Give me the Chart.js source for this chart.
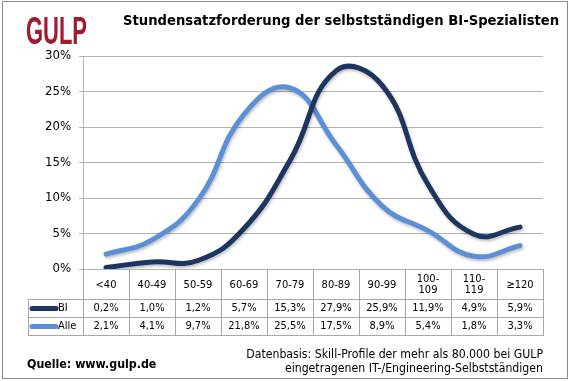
<!DOCTYPE html>
<html><head><meta charset="utf-8">
<script src="https://cdn.jsdelivr.net/npm/chart.js@4/dist/chart.umd.min.js"></script>
<style>html,body{margin:0;padding:0;background:#fff}canvas{display:block}</style>
</head><body>
<canvas id="c" width="570" height="381"></canvas>
<script>
// ---- data ----
const categories = ['<40', '40-49', '50-59', '60-69', '70-79', '80-89', '90-99', ['100-', '109'], ['110-', '119'], '≥120'];
const seriesNames = ['BI', 'Alle'];
const biValues = [0.2, 1.0, 1.2, 5.7, 15.3, 27.9, 25.9, 11.9, 4.9, 5.9];
const alleValues = [2.1, 4.1, 9.7, 21.8, 25.5, 17.5, 8.9, 5.4, 1.8, 3.3];
const yMax = 30;
const yStep = 5;
const titleText = 'Stundensatzforderung der selbstständigen BI-Spezialisten';
const sourceText = 'Quelle: www.gulp.de';
const noteLines = ['Datenbasis: Skill-Profile der mehr als 80.000 bei GULP', 'eingetragenen IT-/Engineering-Selbstständigen'];
const logoText = 'GULP';

const colBI = '#1d365f';
const colAlle = '#5b8fd8';
const gridCol = '#b3b3b3';
const tableFont = '11px "DejaVu Sans Condensed", "DejaVu Sans", sans-serif';
const fmt = v => v.toFixed(1).replace('.', ',') + '%';

function fitFont(ctx, text, weight, family, width) {
  let s = 8;
  for (; s < 40; s += 0.1) {
    ctx.font = weight + ' ' + s + 'px ' + family;
    if (ctx.measureText(text).width >= width) break;
  }
  return weight + ' ' + s.toFixed(1) + 'px ' + family;
}

const decor = {
  id: 'decor',
  beforeDraw(chart) {
    const ctx = chart.ctx;
    ctx.save();
    ctx.fillStyle = '#fff';
    ctx.fillRect(0, 0, chart.width, chart.height);
    ctx.restore();
  },
  beforeDatasetsDraw(chart) {
    const ctx = chart.ctx;
    ctx.save();
    ctx.shadowColor = 'rgba(0,0,0,0.25)';
    ctx.shadowBlur = 3;
    ctx.shadowOffsetX = 1;
    ctx.shadowOffsetY = 2;
  },
  afterDatasetsDraw(chart) {
    chart.ctx.restore();
  },
  afterDraw(chart) {
    const ctx = chart.ctx;
    const x = chart.scales.x;
    const ca = chart.chartArea;
    const n = categories.length;
    const bounds = [];
    for (let i = 0; i <= n; i++) {
      if (i === 0) bounds.push(ca.left);
      else if (i === n) bounds.push(ca.right);
      else bounds.push((x.getPixelForValue(i - 1) + x.getPixelForValue(i)) / 2);
    }
    const headTop = ca.bottom;
    const headBot = x.bottom;
    const rowH = 18;
    const legLeft = 28;
    const tableBot = headBot + rowH * seriesNames.length;
    const r = v => Math.round(v) + 0.5;
    ctx.save();
    ctx.strokeStyle = '#a8a8a8';
    ctx.lineWidth = 1;
    ctx.beginPath();
    // verticals
    bounds.forEach((b, i) => {
      ctx.moveTo(r(b), headTop);
      ctx.lineTo(r(b), tableBot);
    });
    ctx.moveTo(r(legLeft), headBot);
    ctx.lineTo(r(legLeft), tableBot);
    // horizontals
    for (let k = 0; k <= seriesNames.length; k++) {
      const yy = r(headBot + rowH * k);
      ctx.moveTo(legLeft, yy);
      ctx.lineTo(ca.right + 1, yy);
    }
    ctx.stroke();

    const series = [biValues, alleValues];
    const cols = [colBI, colAlle];
    ctx.font = tableFont;
    ctx.textBaseline = 'middle';
    series.forEach((vals, k) => {
      const yc = headBot + rowH * k + rowH / 2 + 0.5;
      ctx.fillStyle = '#000';
      ctx.textAlign = 'center';
      vals.forEach((v, i) => ctx.fillText(fmt(v), x.getPixelForValue(i), yc));
      // legend
      ctx.strokeStyle = cols[k];
      ctx.lineWidth = 5;
      ctx.lineCap = 'round';
      ctx.beginPath();
      ctx.moveTo(32, yc);
      ctx.lineTo(56, yc);
      ctx.stroke();
      ctx.fillStyle = '#000';
      ctx.textAlign = 'left';
      ctx.fillText(seriesNames[k], 58, yc);
    });

    // border
    ctx.strokeStyle = '#8c8c8c';
    ctx.lineWidth = 1;
    ctx.strokeRect(2.5, 1.5, 565, 377);

    // title
    ctx.fillStyle = '#000';
    ctx.textAlign = 'left';
    ctx.textBaseline = 'middle';
    ctx.font = fitFont(ctx, titleText, 'bold', '"DejaVu Sans", sans-serif', 436);
    ctx.fillText(titleText, 123, 22);

    // logo
    ctx.save();
    ctx.font = 'bold 39px "Liberation Sans Narrow", "Liberation Sans", sans-serif';
    const lw = ctx.measureText(logoText).width;
    ctx.translate(26, 44);
    ctx.scale(61 / lw, 1);
    ctx.textBaseline = 'alphabetic';
    ctx.fillStyle = '#a01a30';
    ctx.fillText(logoText, 0, 0);
    ctx.restore();

    // footer
    ctx.fillStyle = '#000';
    ctx.textAlign = 'left';
    ctx.font = fitFont(ctx, sourceText, 'bold', '"DejaVu Sans Condensed", "DejaVu Sans", sans-serif', 129);
    ctx.fillText(sourceText, 27, 365);
    ctx.textAlign = 'right';
    ctx.font = fitFont(ctx, noteLines[0], '', '"DejaVu Sans Condensed", "DejaVu Sans", sans-serif', 296);
    ctx.fillText(noteLines[0], 543, 355);
    ctx.fillText(noteLines[1], 543, 369);
    ctx.restore();
  }
};

new Chart(document.getElementById('c'), {
  type: 'line',
  data: {
    labels: categories,
    datasets: [
      { label: seriesNames[0], data: biValues, borderColor: colBI, backgroundColor: colBI },
      { label: seriesNames[1], data: alleValues, borderColor: colAlle, backgroundColor: colAlle }
    ]
  },
  options: {
    responsive: false,
    animation: false,
    devicePixelRatio: 1,
    layout: { padding: { left: 0, right: 27, top: 56, bottom: 82 } },
    elements: {
      line: { borderWidth: 5, tension: 0.45, borderCapStyle: 'round', borderJoinStyle: 'round', fill: false },
      point: { radius: 0, hoverRadius: 0 }
    },
    plugins: { legend: { display: false }, tooltip: { enabled: false }, title: { display: false } },
    scales: {
      x: {
        offset: true,
        grid: { display: false, drawTicks: false },
        border: { display: true, color: gridCol },
        ticks: {
          autoSkip: false, maxRotation: 0, minRotation: 0, padding: 10,
          crossAlign: 'center', color: '#000',
          font: { family: '"DejaVu Sans Condensed", "DejaVu Sans", sans-serif', size: 11, lineHeight: 1.05 }
        },
        afterFit(s) { s.height = 30; }
      },
      y: {
        min: 0, max: yMax,
        grid: { color: gridCol, tickLength: 4, tickColor: gridCol },
        border: { display: true, color: gridCol },
        ticks: {
          stepSize: yStep, padding: 8, color: '#000',
          font: { family: '"DejaVu Sans Condensed", "DejaVu Sans", sans-serif', size: 13 },
          callback: v => v + '%'
        },
        afterFit(s) { s.width = 83; }
      }
    }
  },
  plugins: [decor]
});
</script>
</body></html>
